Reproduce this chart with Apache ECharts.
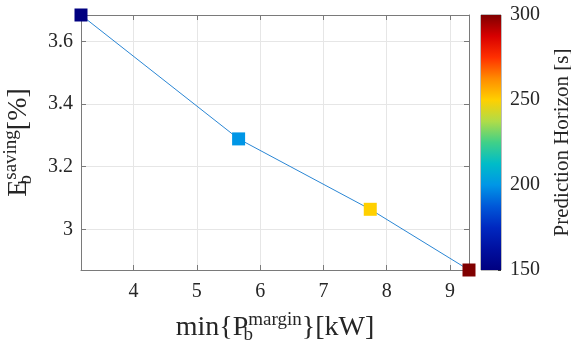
<!DOCTYPE html>
<html>
<head>
<meta charset="utf-8">
<script src="https://cdn.jsdelivr.net/npm/echarts@6/dist/echarts.min.js"></script>
<style>html,body{margin:0;padding:0;background:#fff;}#c{width:571px;height:344px;}</style>
</head>
<body>
<div id="c"></div>
<script>
// ---- data ----
var marginKW   = [3.17, 5.66, 7.74, 9.30];      // min{P_b^margin} [kW]
var savingPct  = [3.685, 3.289, 3.064, 2.870];  // E_b^saving [%]
var horizonS   = [150, 200, 250, 300];          // Prediction Horizon [s]
var xTicks = [4, 5, 6, 7, 8, 9];
var yTicks = [3, 3.2, 3.4, 3.6];
var cbTicks = [150, 200, 250, 300];
var xRange = [3.17, 9.30];
var yRange = [2.87, 3.685];
var cbRange = [150, 300];
// colormap (bottom -> top), jet-like
var cmap = ['#000080','#0010a0','#0028c0','#0058d8','#0096e6','#00bcc8','#40d088',
            '#b0dc48','#ffd000','#ff8c00','#ff3000','#d80000','#800000'];

var FONT = '"Liberation Serif", "DejaVu Serif", serif';
var TXT = '#262626';
var AX = '#7a7a7a';

function fmt(list){
  return function(v){
    for (var i=0;i<list.length;i++){ if (Math.abs(list[i]-v) < 1e-6) return String(list[i]); }
    return '';
  };
}

var gradStops = cmap.map(function(c,i){ return {offset: 1 - i/(cmap.length-1), color: c}; }).reverse();

var chart = echarts.init(document.getElementById('c'), null, {renderer:'canvas'});
var supStyle = {fontSize: 19, fontFamily: FONT, color: TXT, verticalAlign: 'top', lineHeight: 18};
var subStyle = {fontSize: 19, fontFamily: FONT, color: TXT, verticalAlign: 'bottom', lineHeight: 18, width: 0};

chart.setOption({
  animation: false,
  grid: [
    {left: 81, right: 102, top: 15, bottom: 74, show: false, containLabel: false, outerBoundsMode: 'none'},
    {left: 481, width: 20, top: 15, bottom: 74, show: true, borderColor: AX, borderWidth: 1,
     containLabel: false, outerBoundsMode: 'none'}
  ],
  visualMap: {
    show: false, type: 'continuous', seriesIndex: 1, dimension: 2,
    min: cbRange[0], max: cbRange[1], inRange: {color: cmap}
  },
  xAxis: [
    {
      type: 'value', gridIndex: 0, min: xRange[0], max: xRange[1], position: 'bottom',
      axisLine: {show: true, lineStyle: {color: AX, width: 1}},
      axisTick: {show: true, inside: true, length: 5, lineStyle: {color: AX}},
      splitLine: {show: true, lineStyle: {color: '#e6e6e6', width: 1}},
      axisLabel: {formatter: fmt(xTicks), fontSize: 20, fontFamily: FONT, color: TXT, margin: 12},
      name: 'min{P{sub|b}{sup|margin}}[kW]',
      nameLocation: 'middle', nameGap: 41,
      nameTextStyle: {fontSize: 28, fontFamily: FONT, color: TXT, lineHeight: 34,
        rich: {sup: supStyle, sub: subStyle}}
    },
    {
      type: 'value', gridIndex: 0, min: xRange[0], max: xRange[1], position: 'top',
      axisLine: {show: true, lineStyle: {color: AX, width: 1}},
      axisTick: {show: true, inside: true, length: 5, lineStyle: {color: AX}},
      splitLine: {show: false}, axisLabel: {show: false}
    },
    {
      type: 'category', gridIndex: 1, data: ['cb'], show: false
    }
  ],
  yAxis: [
    {
      type: 'value', gridIndex: 0, min: yRange[0], max: yRange[1], position: 'left',
      axisLine: {show: true, lineStyle: {color: AX, width: 1}},
      axisTick: {show: true, inside: true, length: 5, lineStyle: {color: AX}},
      splitLine: {show: true, lineStyle: {color: '#e6e6e6', width: 1}},
      axisLabel: {formatter: fmt(yTicks), fontSize: 20, fontFamily: FONT, color: TXT, margin: 8},
      name: 'E{sub|b}{sup|saving}[%]',
      nameLocation: 'middle', nameGap: 45,
      nameTextStyle: {fontSize: 28, fontFamily: FONT, color: TXT, lineHeight: 34,
        rich: {sup: supStyle, sub: subStyle}}
    },
    {
      type: 'value', gridIndex: 0, min: yRange[0], max: yRange[1], position: 'right',
      axisLine: {show: true, lineStyle: {color: AX, width: 1}},
      axisTick: {show: true, inside: true, length: 5, lineStyle: {color: AX}},
      splitLine: {show: false}, axisLabel: {show: false}
    },
    {
      type: 'value', gridIndex: 1, min: cbRange[0], max: cbRange[1], interval: 50, position: 'right',
      axisLine: {show: false},
      axisTick: {show: true, inside: true, length: 3, lineStyle: {color: '#333'}},
      splitLine: {show: false},
      axisLabel: {formatter: fmt(cbTicks), fontSize: 20, fontFamily: FONT, color: TXT, margin: 9},
      name: 'Prediction Horizon [s]', nameLocation: 'middle', nameGap: 51, nameRotate: 90,
      nameTextStyle: {fontSize: 21, fontFamily: FONT, color: TXT}
    }
  ],
  series: [
    {
      type: 'line', xAxisIndex: 0, yAxisIndex: 0, symbol: 'none', clip: false,
      lineStyle: {color: '#2a86d4', width: 1},
      data: marginKW.map(function(x,i){ return [x, savingPct[i]]; }), z: 2
    },
    {
      type: 'scatter', xAxisIndex: 0, yAxisIndex: 0, symbol: 'rect', symbolSize: 13, clip: false,
      itemStyle: {opacity: 1},
      data: marginKW.map(function(x,i){ return [x, savingPct[i], horizonS[i]]; }), z: 3
    },
    {
      type: 'bar', xAxisIndex: 2, yAxisIndex: 2, stack: 'cb', barWidth: '100%', silent: true,
      itemStyle: {color: 'rgba(0,0,0,0)'}, data: [cbRange[0]]
    },
    {
      type: 'bar', xAxisIndex: 2, yAxisIndex: 2, stack: 'cb', barWidth: '100%', silent: true,
      itemStyle: {color: new echarts.graphic.LinearGradient(0, 0, 0, 1, gradStops)},
      data: [cbRange[1] - cbRange[0]]
    }
  ]
});
</script>
</body>
</html>
